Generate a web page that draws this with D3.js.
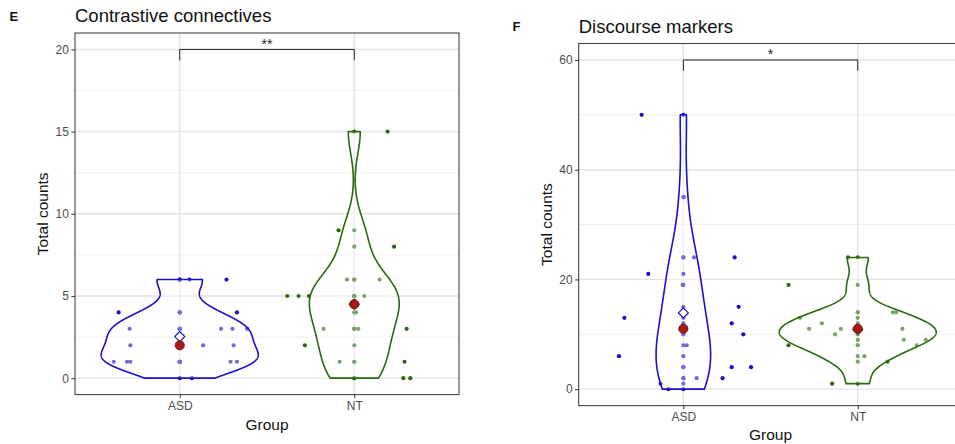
<!DOCTYPE html>
<html>
<head>
<meta charset="utf-8">
<script src="https://cdn.jsdelivr.net/npm/d3@7"></script>
<style>
  body { margin: 0; background: #fff; }
  svg { display: block; font-family: "Liberation Sans", Arial, Helvetica, sans-serif; }
</style>
</head>
<body>
<svg id="chart" width="955" height="444"></svg>
<script>
// ---- data ----------------------------------------------------------------
const groups = ["ASD", "NT"];

// Contrastive connectives: total counts per participant, with the horizontal
// jitter of each dot expressed in category units
const ccAsdCounts = [6, 6, 4, 4, 3, 3, 3, 3, 2, 2, 2, 1, 1, 1, 1, 1, 0];
const ccAsdJitter = [0.056, 0.268, -0.350, 0.328, -0.287, 0.237, 0.302, 0.386, -0.283, 0.134, 0.309, -0.378, -0.302, -0.283, 0.291, 0.328, 0.070];
const ccNtCounts = [15, 9, 8, 6, 6, 5, 5, 5, 5, 4, 3, 3, 3, 2, 1, 1, 0, 0];
const ccNtJitter = [0.191, -0.090, 0.228, -0.042, 0.145, -0.384, -0.319, -0.260, 0.057, 0.010, -0.176, 0.023, 0.300, -0.283, -0.084, 0.288, 0.281, 0.321];

// Discourse markers
const dmAsdCounts = [50, 35, 24, 24, 21, 19, 15, 13, 12, 10, 8, 6, 4, 4, 2, 2, 1, 0];
const dmAsdJitter = [-0.239, 0.004, 0.061, 0.294, -0.201, -0.004, 0.317, -0.338, 0.277, 0.344, 0.019, -0.369, 0.277, 0.388, 0.076, 0.225, -0.130, -0.086];
const dmNtCounts = [24, 19, 14, 14, 13, 12, 11, 11, 11, 10, 9, 9, 8, 8, 6, 5, 1];
const dmNtJitter = [-0.056, -0.397, 0.201, 0.220, -0.331, -0.206, -0.279, -0.097, 0.256, -0.130, 0.264, 0.390, -0.397, 0.338, 0.038, 0.170, -0.147];

// axis ticks
const ccTicks = [0, 5, 10, 15, 20];
const ccMinorTicks = [2.5, 7.5, 12.5, 17.5];
const dmTicks = [0, 20, 40, 60];
const dmMinorTicks = [10, 30, 50];

// significance brackets
const signifLabels = ["**", "*"];
const signifHeights = [20, 60];

// ---- styling ---------------------------------------------------------------
const groupColors = ["#1a10c4", "#2c6a0e"];
const medianFill = "#a8191a";
const medianStroke = "#6a0a0a";
const textGrey = "#4d4d4d";

const svg = d3.select("#chart");

// Gaussian kernel density with R's nrd0 bandwidth, evaluated over the data range
function violinDensity(values) {
  const s = values.slice().sort(d3.ascending);
  const n = s.length;
  const sd = d3.deviation(s);
  const iqr = d3.quantileSorted(s, 0.75) - d3.quantileSorted(s, 0.25);
  let lo = Math.min(sd, iqr / 1.34);
  if (!(lo > 0)) lo = sd || Math.abs(s[0]) || 1;
  const bw = 0.9 * lo * Math.pow(n, -0.2);
  const [mn, mx] = d3.extent(s);
  const grid = d3.range(512).map(i => mn + (mx - mn) * i / 511);
  const k = 1 / (n * bw * Math.sqrt(2 * Math.PI));
  return grid.map(t => ({
    v: t,
    d: k * d3.sum(s, xi => Math.exp(-0.5 * ((t - xi) / bw) ** 2))
  }));
}

function drawPanel(cfg) {
  const g = svg.append("g");
  const x = d3.scaleLinear().domain([0.4, 2.6]).range([cfg.left, cfg.right]);
  const y = d3.scaleLinear().domain(cfg.yDomain).range([cfg.bottom, cfg.top]);

  // panel letter and title
  g.append("text").attr("x", cfg.letterX).attr("y", cfg.letterY)
    .attr("font-size", 13).attr("font-weight", "bold").attr("fill", "#111")
    .text(cfg.letter);
  g.append("text").attr("x", cfg.left).attr("y", cfg.titleY)
    .attr("font-size", 18.5).attr("fill", "#111").text(cfg.title);

  // grid
  const grid = g.append("g");
  grid.selectAll(".minor").data(cfg.minor).join("line")
    .attr("x1", cfg.left).attr("x2", cfg.right)
    .attr("y1", d => y(d)).attr("y2", d => y(d))
    .attr("stroke", "#efefef").attr("stroke-width", 1);
  grid.selectAll(".major").data(cfg.ticks).join("line")
    .attr("x1", cfg.left).attr("x2", cfg.right)
    .attr("y1", d => y(d)).attr("y2", d => y(d))
    .attr("stroke", "#e3e3e3").attr("stroke-width", 1.4);
  grid.selectAll(".vmajor").data([1, 2]).join("line")
    .attr("x1", d => x(d)).attr("x2", d => x(d))
    .attr("y1", cfg.top).attr("y2", cfg.bottom)
    .attr("stroke", "#e3e3e3").attr("stroke-width", 1.4);

  const series = cfg.series;

  // points: raw values on the group centre plus a jittered copy
  series.forEach((s, i) => {
    const cx = i + 1;
    const pts = g.append("g").attr("fill", groupColors[i]);
    pts.selectAll(".c").data(s.counts).join("circle")
      .attr("cx", x(cx)).attr("cy", d => y(d)).attr("r", 2.1);
    pts.selectAll(".j").data(s.counts.map((v, k) => ({ v, j: s.jitter[k] }))).join("circle")
      .attr("cx", d => x(cx + d.j)).attr("cy", d => y(d.v)).attr("r", 2.1);
  });

  // violins, area-scaled within the panel; the translucent white fill
  // lightens the dots lying inside them
  const dens = series.map(s => violinDensity(s.counts));
  const maxD = d3.max(dens, d => d3.max(d, p => p.d));
  dens.forEach((dd, i) => {
    const cx = i + 1;
    const area = d3.area()
      .y(p => y(p.v))
      .x0(p => x(cx - 0.45 * p.d / maxD))
      .x1(p => x(cx + 0.45 * p.d / maxD));
    g.append("path").datum(dd).attr("d", area)
      .attr("fill", "#fff").attr("fill-opacity", 0.38)
      .attr("stroke", groupColors[i]).attr("stroke-width", 1.6)
      .attr("stroke-linejoin", "round");
  });

  // significance bracket
  const top = cfg.signifY;
  const tip = (cfg.yDomain[1] - cfg.yDomain[0]) * 0.03;
  g.append("path")
    .attr("d", d3.line()([[x(1), y(top - tip)], [x(1), y(top)], [x(2), y(top)], [x(2), y(top - tip)]]))
    .attr("fill", "none").attr("stroke", "#222").attr("stroke-width", 1);
  g.append("text").attr("x", x(1.5)).attr("y", y(top) - 0.5)
    .attr("text-anchor", "middle").attr("font-size", 14).attr("fill", "#222")
    .text(cfg.signif);

  // group means (open diamonds) and medians (red dots)
  series.forEach((s, i) => {
    const cx = x(i + 1);
    const my = y(d3.mean(s.counts));
    const r = 5;
    g.append("path")
      .attr("d", d3.line()([[cx, my - r], [cx + r, my], [cx, my + r], [cx - r, my]]) + "Z")
      .attr("fill", "#fff").attr("stroke", groupColors[i]).attr("stroke-width", 1.2);
  });
  series.forEach((s, i) => {
    g.append("circle").attr("cx", x(i + 1)).attr("cy", y(d3.median(s.counts))).attr("r", 4.6)
      .attr("fill", medianFill).attr("stroke", medianStroke).attr("stroke-width", 0.8);
  });

  // panel border
  g.append("rect").attr("x", cfg.left).attr("y", cfg.top)
    .attr("width", cfg.right - cfg.left).attr("height", cfg.bottom - cfg.top)
    .attr("fill", "none").attr("stroke", "#444").attr("stroke-width", 1.1);

  // axes
  const ya = g.append("g").attr("transform", `translate(${cfg.left},0)`)
    .call(d3.axisLeft(y).tickValues(cfg.ticks).tickSize(3.6).tickPadding(2.5));
  ya.select(".domain").remove();
  ya.selectAll("line").attr("stroke", "#333");
  ya.selectAll("text").attr("fill", textGrey).attr("font-size", 12).attr("font-family", null);

  const xa = g.append("g").attr("transform", `translate(0,${cfg.bottom})`)
    .call(d3.axisBottom(x).tickValues([1, 2]).tickFormat(d => groups[d - 1]).tickSize(3.6).tickPadding(3));
  xa.select(".domain").remove();
  xa.selectAll("line").attr("stroke", "#333");
  xa.selectAll("text").attr("fill", textGrey).attr("font-size", 12).attr("font-family", null);

  // axis titles
  g.append("text").attr("x", (cfg.left + cfg.right) / 2).attr("y", cfg.xTitleY)
    .attr("text-anchor", "middle").attr("font-size", 15.5).attr("fill", "#111").text("Group");
  g.append("text")
    .attr("transform", `translate(${cfg.yTitleX},${(cfg.top + cfg.bottom) / 2}) rotate(-90)`)
    .attr("text-anchor", "middle").attr("font-size", 15.5).attr("fill", "#111").text("Total counts");
}

drawPanel({
  letter: "E", letterX: 9.5, letterY: 20.8,
  title: "Contrastive connectives", titleY: 21.8,
  left: 75, right: 459, top: 33, bottom: 394.6,
  yDomain: [-1, 21], ticks: ccTicks, minor: ccMinorTicks,
  series: [{ counts: ccAsdCounts, jitter: ccAsdJitter }, { counts: ccNtCounts, jitter: ccNtJitter }],
  signif: signifLabels[0], signifY: signifHeights[0],
  xTitleY: 429.5, yTitleX: 48
});

drawPanel({
  letter: "F", letterX: 512.5, letterY: 31,
  title: "Discourse markers", titleY: 32.7,
  left: 578.7, right: 962.4, top: 43.5, bottom: 405.6,
  yDomain: [-3, 63], ticks: dmTicks, minor: dmMinorTicks,
  series: [{ counts: dmAsdCounts, jitter: dmAsdJitter }, { counts: dmNtCounts, jitter: dmNtJitter }],
  signif: signifLabels[1], signifY: signifHeights[1],
  xTitleY: 439.5, yTitleX: 552
});
</script>
</body>
</html>
